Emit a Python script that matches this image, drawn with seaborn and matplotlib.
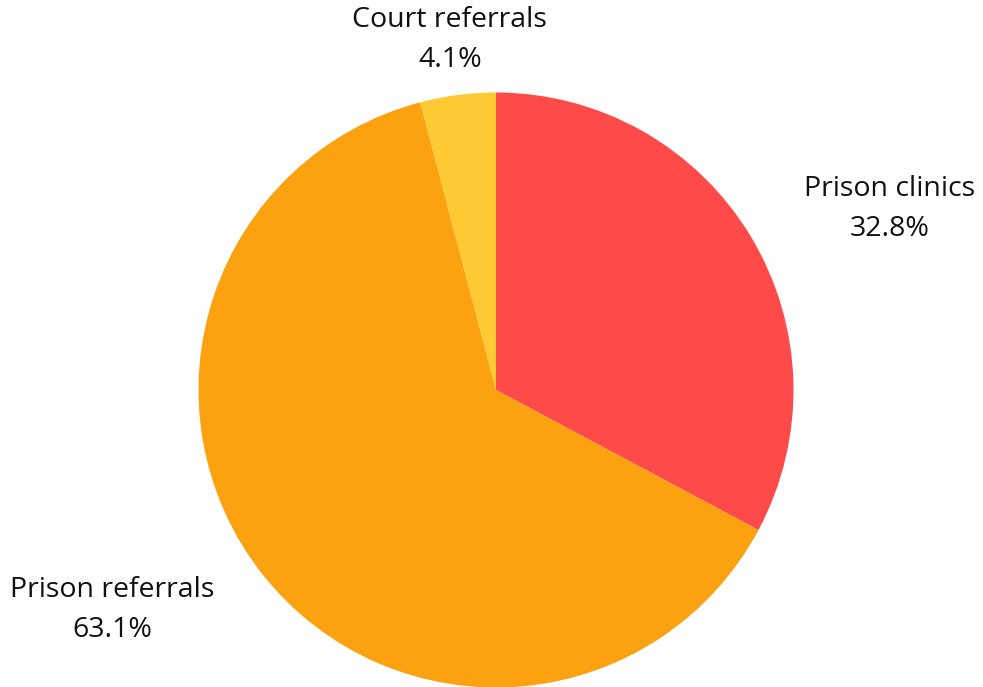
import matplotlib
matplotlib.use("Agg")
import matplotlib.pyplot as plt
import seaborn as sns

sns.set_theme(style="white")
plt.rcParams['font.family'] = ['Open Sans', 'DejaVu Sans']

categories = ["Prison clinics", "Prison referrals", "Court referrals"]
values = [32.8, 63.1, 4.1]
colors = ["#FF4A4A", "#FCA10F", "#FFC933"]
# label anchor positions (data units, radius = 1)
label_pos = [(1.324, 0.608), (-1.291, -0.740), (-0.155, 1.176)]

fig = plt.figure(figsize=(9.83, 6.87), dpi=100)
fig.patch.set_facecolor("white")
ax = fig.add_axes([198.5 / 983, -0.5 / 687, 595 / 983, 595 / 687])
ax.pie(values, colors=colors, startangle=90, counterclock=False, radius=1,
       wedgeprops=dict(linewidth=0))
ax.set_xlim(-1, 1)
ax.set_ylim(-1, 1)
ax.set_aspect("equal")
ax.axis("off")

for cat, val, (x, y) in zip(categories, values, label_pos):
    ax.text(x, y, f"{cat}\n{val:.1f}%", ha="center", va="center",
            fontsize=20.5, color="#111111", linespacing=1.56, clip_on=False)

fig.savefig("out.png", dpi=100, facecolor="white")
